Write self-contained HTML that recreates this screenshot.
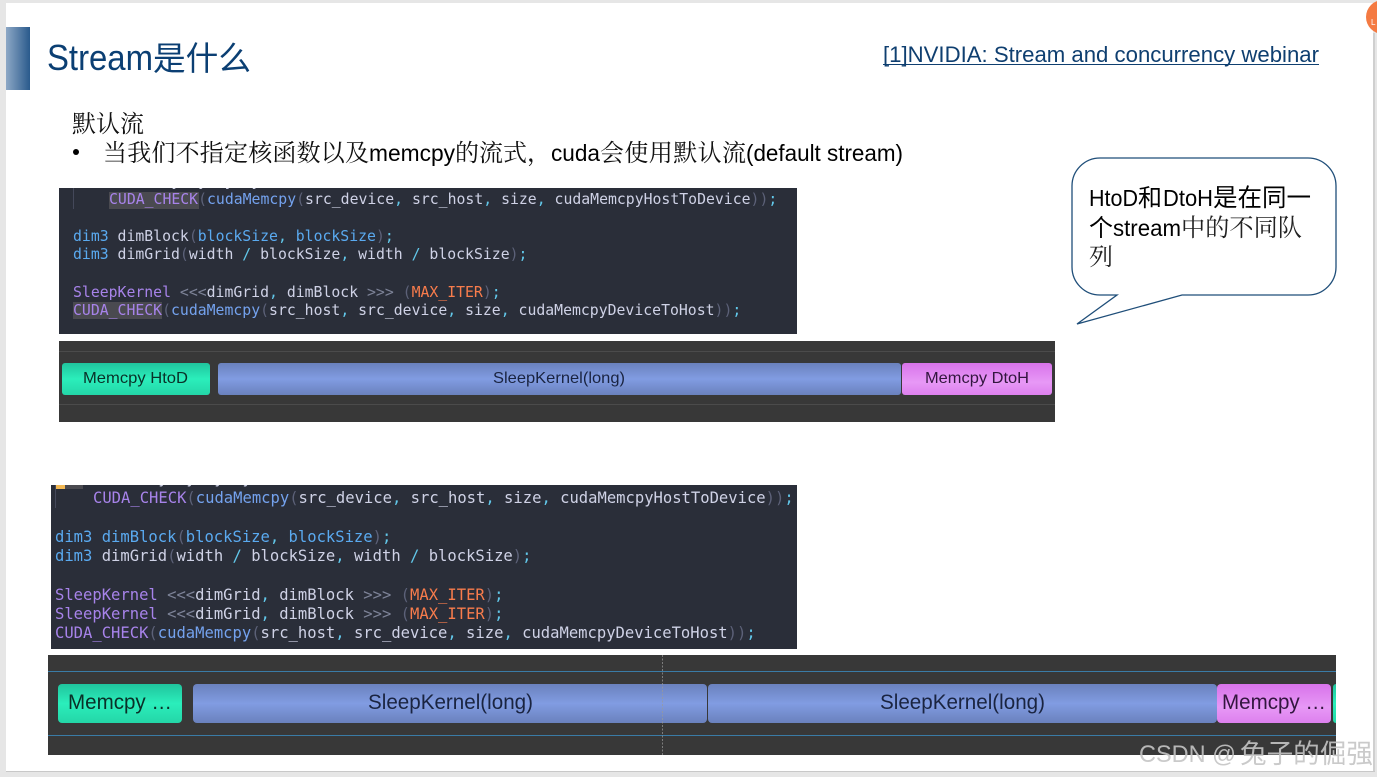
<!DOCTYPE html>
<html><head><meta charset="utf-8"><style>
html,body{margin:0;padding:0;width:1377px;height:777px;overflow:hidden;background:#e6e6e6}
svg{display:block}
.s{font-family:"Liberation Sans","Noto Sans CJK SC",sans-serif}
.z{font-family:"Liberation Serif","Noto Serif CJK SC",serif}
.m{font-family:"DejaVu Sans Mono","Liberation Mono",monospace;white-space:pre}
.c1{font-size:14.8px}.c2{font-size:15.52px}
.v{fill:#cfd2e6}.p{fill:#a783ea}.f{fill:#74a2ee}.b{fill:#5aaaf0}.o{fill:#f87c4c}.g{fill:#7d8398}.w{fill:#62c8ea}.d{fill:#5c6178}
</style></head><body>
<svg width="1377" height="777" viewBox="0 0 1377 777" xmlns="http://www.w3.org/2000/svg">
<defs>
<linearGradient id="lb" x1="0" x2="1" y1="0" y2="0"><stop offset="0" stop-color="#8da8c6"/><stop offset="1" stop-color="#2a5a8c"/></linearGradient>
<linearGradient id="gr" x1="0" x2="0" y1="0" y2="1"><stop offset="0" stop-color="#20c49d"/><stop offset=".5" stop-color="#2beebb"/><stop offset="1" stop-color="#24d6a8"/></linearGradient>
<linearGradient id="bl" x1="0" x2="0" y1="0" y2="1"><stop offset="0" stop-color="#6a81bd"/><stop offset=".5" stop-color="#819ce2"/><stop offset="1" stop-color="#6a81bd"/></linearGradient>
<linearGradient id="pk" x1="0" x2="0" y1="0" y2="1"><stop offset="0" stop-color="#d873ea"/><stop offset=".6" stop-color="#e798f6"/><stop offset="1" stop-color="#dd80ee"/></linearGradient>
<clipPath id="k1"><rect x="59" y="188" width="738" height="146"/></clipPath>
<clipPath id="k2"><rect x="51" y="485" width="746" height="164"/></clipPath>
<clipPath id="k3"><rect x="48" y="655" width="1288" height="100"/></clipPath>
</defs>
<rect x="6" y="3" width="1367" height="768" fill="#fff"/>
<rect x="1373" y="33" width="2" height="739" fill="#cfcfcf"/>
<rect x="6" y="771" width="1369" height="1" fill="#c8c8c8"/>
<rect x="6" y="27" width="24" height="63" fill="url(#lb)"/>
<text class="s" x="47" y="70" font-size="36" fill="#0b3f73" textLength="106" lengthAdjust="spacingAndGlyphs">Stream</text>
<text class="s" x="153" y="70" font-size="33" fill="#0b3f73" textLength="98" lengthAdjust="spacingAndGlyphs">是什么</text>
<text class="s" x="883" y="62" font-size="22" fill="#0f3f70" textLength="436" lengthAdjust="spacingAndGlyphs">[1]NVIDIA: Stream and concurrency webinar</text>
<rect x="883" y="64" width="436" height="1" fill="#0f3f70"/>
<circle cx="1383" cy="17" r="17" fill="#f47a42"/>
<text class="s" x="1371" y="25" font-size="8" fill="#fff">L</text>

<text class="z" x="72" y="132" font-size="24" fill="#111">默认流</text>
<circle cx="76" cy="152" r="3" fill="#000"/>
<text class="z" x="103" y="161" font-size="24" fill="#111" textLength="266">当我们不指定核函数以及</text>
<text class="s" x="369" y="161" font-size="23" fill="#000" textLength="86" lengthAdjust="spacingAndGlyphs">memcpy</text>
<text class="z" x="455" y="161" font-size="24" fill="#111" textLength="96">的流式，</text>
<text class="s" x="551" y="161" font-size="23" fill="#000" textLength="49" lengthAdjust="spacingAndGlyphs">cuda</text>
<text class="z" x="600" y="161" font-size="24" fill="#111" textLength="146">会使用默认流</text>
<text class="s" x="746" y="161" font-size="23" fill="#000" textLength="157" lengthAdjust="spacingAndGlyphs">(default stream)</text>

<path d="M1100 158H1308A28 28 0 0 1 1336 186V267A28 28 0 0 1 1308 295H1182L1077 324L1117 295H1100A28 28 0 0 1 1072 267V186A28 28 0 0 1 1100 158Z" fill="#fff" stroke="#1f4e79" stroke-width="1.3"/>
<text class="s" x="1089" y="206" font-size="23" fill="#000" textLength="49" lengthAdjust="spacingAndGlyphs">HtoD</text>
<text class="s" x="1138" y="206" font-size="24" fill="#000">和</text>
<text class="s" x="1163" y="206" font-size="23" fill="#000" textLength="50" lengthAdjust="spacingAndGlyphs">DtoH</text>
<text class="s" x="1213" y="206" font-size="24.5" fill="#000">是在同一</text>
<text class="s" x="1089" y="236" font-size="24" fill="#000">个</text>
<text class="s" x="1113" y="236" font-size="23" fill="#000" textLength="68" lengthAdjust="spacingAndGlyphs">stream</text>
<text class="z" x="1181" y="236" font-size="24.2" fill="#222">中的不同队</text>
<text class="z" x="1089" y="265" font-size="24" fill="#222">列</text>

<!-- code block 1 -->
<rect x="59" y="188" width="738" height="146" fill="#2a2e39"/>
<rect x="109" y="192" width="90" height="17" fill="#4a4a50"/>
<rect x="73" y="302" width="89" height="17" fill="#4a4a50"/>
<rect x="73" y="188" width="1" height="21" fill="#44485a"/>
<g class="m c1" clip-path="url(#k1)">
<text x="109" y="186"><tspan class="v">       float* y, y, y, y,</tspan></text>
<text x="109" y="204"><tspan class="p">CUDA_CHECK</tspan><tspan class="d">(</tspan><tspan class="f">cudaMemcpy</tspan><tspan class="d">(</tspan><tspan class="v">src_device</tspan><tspan class="w">,</tspan><tspan class="v"> src_host</tspan><tspan class="w">,</tspan><tspan class="v"> size</tspan><tspan class="w">,</tspan><tspan class="v"> cudaMemcpyHostToDevice</tspan><tspan class="d">))</tspan><tspan class="w">;</tspan></text>
<text x="73" y="241"><tspan class="b">dim3</tspan><tspan class="v"> dimBlock</tspan><tspan class="d">(</tspan><tspan class="b">blockSize</tspan><tspan class="w">,</tspan><tspan class="b"> blockSize</tspan><tspan class="d">)</tspan><tspan class="w">;</tspan></text>
<text x="73" y="259"><tspan class="b">dim3</tspan><tspan class="v"> dimGrid</tspan><tspan class="d">(</tspan><tspan class="v">width </tspan><tspan class="w">/</tspan><tspan class="v"> blockSize</tspan><tspan class="w">,</tspan><tspan class="v"> width </tspan><tspan class="w">/</tspan><tspan class="v"> blockSize</tspan><tspan class="d">)</tspan><tspan class="w">;</tspan></text>
<text x="73" y="297"><tspan class="p">SleepKernel</tspan><tspan class="g"> &lt;&lt;&lt;</tspan><tspan class="v">dimGrid</tspan><tspan class="w">,</tspan><tspan class="v"> dimBlock </tspan><tspan class="g">&gt;&gt;&gt; </tspan><tspan class="d">(</tspan><tspan class="o">MAX_ITER</tspan><tspan class="d">)</tspan><tspan class="w">;</tspan></text>
<text x="73" y="315"><tspan class="p">CUDA_CHECK</tspan><tspan class="d">(</tspan><tspan class="f">cudaMemcpy</tspan><tspan class="d">(</tspan><tspan class="v">src_host</tspan><tspan class="w">,</tspan><tspan class="v"> src_device</tspan><tspan class="w">,</tspan><tspan class="v"> size</tspan><tspan class="w">,</tspan><tspan class="v"> cudaMemcpyDeviceToHost</tspan><tspan class="d">))</tspan><tspan class="w">;</tspan></text>
</g>

<!-- timeline 1 -->
<rect x="59" y="341" width="996" height="81" fill="#383838"/>
<rect x="59" y="351" width="996" height="1" fill="#4b4b4b"/>
<rect x="59" y="404" width="996" height="1" fill="#4b4b4b"/>
<rect x="62" y="363" width="148" height="32" rx="3" fill="url(#gr)"/>
<rect x="218" y="363" width="683" height="32" rx="3" fill="url(#bl)"/>
<rect x="902" y="363" width="150" height="32" rx="3" fill="url(#pk)"/>
<text class="s" x="83" y="383" font-size="16" fill="#0a3028" textLength="105" lengthAdjust="spacingAndGlyphs">Memcpy HtoD</text>
<text class="s" x="493" y="383" font-size="16" fill="#1a2440" textLength="132" lengthAdjust="spacingAndGlyphs">SleepKernel(long)</text>
<text class="s" x="925" y="383" font-size="16" fill="#33163f" textLength="104" lengthAdjust="spacingAndGlyphs">Memcpy DtoH</text>

<!-- code block 2 -->
<rect x="51" y="485" width="746" height="164" fill="#2a2e39"/>
<rect x="55" y="485" width="10" height="4" fill="#f3b954"/>
<rect x="65" y="485" width="18" height="4" fill="#4a4a50"/>
<rect x="55" y="485" width="1" height="23" fill="#44485a"/>
<g class="m c2" clip-path="url(#k2)">
<text x="93" y="483"><tspan class="v">       float* y, y, y, y,</tspan></text>
<text x="93" y="503"><tspan class="p">CUDA_CHECK</tspan><tspan class="d">(</tspan><tspan class="f">cudaMemcpy</tspan><tspan class="d">(</tspan><tspan class="v">src_device</tspan><tspan class="w">,</tspan><tspan class="v"> src_host</tspan><tspan class="w">,</tspan><tspan class="v"> size</tspan><tspan class="w">,</tspan><tspan class="v"> cudaMemcpyHostToDevice</tspan><tspan class="d">))</tspan><tspan class="w">;</tspan></text>
<text x="55" y="542"><tspan class="b">dim3 dimBlock</tspan><tspan class="d">(</tspan><tspan class="b">blockSize</tspan><tspan class="w">,</tspan><tspan class="b"> blockSize</tspan><tspan class="d">)</tspan><tspan class="w">;</tspan></text>
<text x="55" y="561"><tspan class="b">dim3</tspan><tspan class="v"> dimGrid</tspan><tspan class="d">(</tspan><tspan class="v">width </tspan><tspan class="w">/</tspan><tspan class="v"> blockSize</tspan><tspan class="w">,</tspan><tspan class="v"> width </tspan><tspan class="w">/</tspan><tspan class="v"> blockSize</tspan><tspan class="d">)</tspan><tspan class="w">;</tspan></text>
<text x="55" y="600"><tspan class="p">SleepKernel</tspan><tspan class="g"> &lt;&lt;&lt;</tspan><tspan class="v">dimGrid</tspan><tspan class="w">,</tspan><tspan class="v"> dimBlock </tspan><tspan class="g">&gt;&gt;&gt; </tspan><tspan class="d">(</tspan><tspan class="o">MAX_ITER</tspan><tspan class="d">)</tspan><tspan class="w">;</tspan></text>
<text x="55" y="619"><tspan class="p">SleepKernel</tspan><tspan class="g"> &lt;&lt;&lt;</tspan><tspan class="v">dimGrid</tspan><tspan class="w">,</tspan><tspan class="v"> dimBlock </tspan><tspan class="g">&gt;&gt;&gt; </tspan><tspan class="d">(</tspan><tspan class="o">MAX_ITER</tspan><tspan class="d">)</tspan><tspan class="w">;</tspan></text>
<text x="55" y="638"><tspan class="p">CUDA_CHECK</tspan><tspan class="d">(</tspan><tspan class="f">cudaMemcpy</tspan><tspan class="d">(</tspan><tspan class="v">src_host</tspan><tspan class="w">,</tspan><tspan class="v"> src_device</tspan><tspan class="w">,</tspan><tspan class="v"> size</tspan><tspan class="w">,</tspan><tspan class="v"> cudaMemcpyDeviceToHost</tspan><tspan class="d">))</tspan><tspan class="w">;</tspan></text>
</g>

<!-- timeline 2 -->
<rect x="48" y="655" width="1288" height="100" fill="#383838"/>
<rect x="48" y="671" width="1288" height="1" fill="#3a7ba6"/>
<rect x="48" y="735" width="1288" height="1" fill="#3a7ba6"/>
<g clip-path="url(#k3)">
<rect x="58" y="684" width="124" height="39" rx="4" fill="url(#gr)"/>
<rect x="193" y="684" width="514" height="39" rx="4" fill="url(#bl)"/>
<rect x="708" y="684" width="509" height="39" rx="4" fill="url(#bl)"/>
<rect x="1217" y="684" width="114" height="39" rx="4" fill="url(#pk)"/>
<rect x="1333" y="684" width="8" height="39" rx="3" fill="url(#gr)"/>
</g>
<line x1="662.5" y1="655" x2="662.5" y2="755" stroke="#9a9a9a" stroke-width="1" stroke-dasharray="2 1.5" opacity=".7"/>
<text class="s" x="68" y="709" font-size="21" fill="#0a3028" textLength="104" lengthAdjust="spacingAndGlyphs">Memcpy …</text>
<text class="s" x="368" y="709" font-size="21" fill="#1a2440" textLength="165" lengthAdjust="spacingAndGlyphs">SleepKernel(long)</text>
<text class="s" x="880" y="709" font-size="21" fill="#1a2440" textLength="165" lengthAdjust="spacingAndGlyphs">SleepKernel(long)</text>
<text class="s" x="1222" y="709" font-size="21" fill="#33163f" textLength="104" lengthAdjust="spacingAndGlyphs">Memcpy …</text>

<text class="s" x="1139" y="762" font-size="24" fill="#c4c4c4" fill-opacity=".9" textLength="97" lengthAdjust="spacingAndGlyphs">CSDN @</text>
<text class="s" x="1240" y="763" font-size="26.6" fill="#c4c4c4" fill-opacity=".9">兔子的倔强</text>
</svg>
</body></html>
